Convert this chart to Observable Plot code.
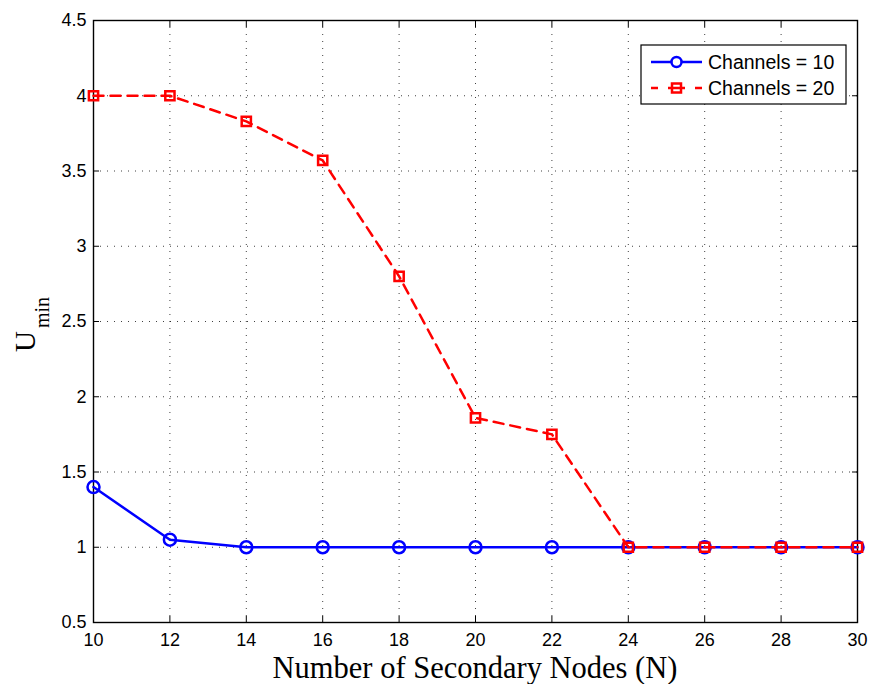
<!DOCTYPE html>
<html>
<head>
<meta charset="utf-8">
<script src="https://cdn.jsdelivr.net/npm/d3@7"></script>
<script src="https://cdn.jsdelivr.net/npm/@observablehq/plot@0.6"></script>
<style>
  html, body { margin: 0; padding: 0; background: #fff; }
  #chart { width: 871px; height: 684px; }
  #chart g[aria-label$="tick label"] { font-size: 18px !important; }
</style>
</head>
<body>
<div id="chart"></div>
<script>
const nodes = [10, 12, 14, 16, 18, 20, 22, 24, 26, 28, 30];
const uminCh10 = [1.4, 1.05, 1, 1, 1, 1, 1, 1, 1, 1, 1];
const uminCh20 = [4, 4, 3.83, 3.57, 2.8, 1.86, 1.75, 1, 1, 1, 1];
const seriesNames = ["Channels = 10", "Channels = 20"];
const xTicks = [10, 12, 14, 16, 18, 20, 22, 24, 26, 28, 30];
const yTicks = [0.5, 1, 1.5, 2, 2.5, 3, 3.5, 4, 4.5];
const xLabel = "Number of Secondary Nodes (N)";
const yLabelMain = "U";
const yLabelSub = "min";

const d10 = nodes.map((n, i) => ({n, v: uminCh10[i]}));
const d20 = nodes.map((n, i) => ({n, v: uminCh20[i]}));

const blue = "#0000ff", red = "#ff0000";
const W = 871, H = 684, mL = 93, mR = 14, mT = 20, mB = 62;

const chart = Plot.plot({
  width: W, height: H,
  marginLeft: mL, marginRight: mR, marginTop: mT, marginBottom: mB,
  style: {fontFamily: "'Liberation Sans', Arial, sans-serif", fontSize: "18px", color: "black", background: "white"},
  x: {domain: [10, 30], label: null},
  y: {domain: [0.5, 4.5], label: null},
  marks: [
    Plot.gridX(xTicks.slice(1, -1), {stroke: "black", strokeOpacity: 0.75, strokeWidth: 1, strokeDasharray: "1,6"}),
    Plot.gridY(yTicks.slice(1, -1), {stroke: "black", strokeOpacity: 0.75, strokeWidth: 1, strokeDasharray: "1,6"}),
    Plot.axisX(xTicks, {anchor: "bottom", tickSize: -6, tickPadding: 17, label: null, fontSize: 18}),
    Plot.axisX(xTicks, {anchor: "top", tickSize: -6, tickFormat: () => "", label: null}),
    Plot.axisY(yTicks, {anchor: "left", tickSize: -6, tickPadding: 13, label: null, fontSize: 18, tickFormat: d => String(d)}),
    Plot.axisY(yTicks, {anchor: "right", tickSize: -6, tickFormat: () => "", label: null}),
    Plot.frame({stroke: "black", strokeWidth: 1.4}),
    Plot.line(d10, {x: "n", y: "v", stroke: blue, strokeWidth: 2.5}),
    Plot.dot(d10, {x: "n", y: "v", r: 6, stroke: blue, strokeWidth: 2.5, fill: "none"}),
    Plot.line(d20, {x: "n", y: "v", stroke: red, strokeWidth: 2.5, strokeDasharray: "10,7"}),
    Plot.dot(d20, {x: "n", y: "v", symbol: "square", r: 5.2, stroke: red, strokeWidth: 2.5, fill: "none"})
  ]
});

document.getElementById("chart").appendChild(chart);

const svg = d3.select(chart);
// x label
svg.append("text")
  .attr("x", mL + (W - mL - mR) / 2)
  .attr("y", 678)
  .attr("text-anchor", "middle")
  .attr("font-family", "'Liberation Serif', 'Times New Roman', serif")
  .attr("font-size", 30.5)
  .attr("fill", "black")
  .text(xLabel);

// y label with subscript
const yl = svg.append("text")
  .attr("transform", "translate(35,352) rotate(-90)")
  .attr("text-anchor", "start")
  .attr("font-family", "'Liberation Serif', 'Times New Roman', serif")
  .attr("fill", "black");
yl.append("tspan").attr("font-size", 29).text(yLabelMain);
yl.append("tspan").attr("font-size", 20).attr("dy", 14).attr("dx", 3).text(yLabelSub);

// legend
const lg = svg.append("g").attr("transform", "translate(641,45)");
lg.append("rect").attr("x", 0).attr("y", 0).attr("width", 205).attr("height", 59)
  .attr("fill", "white").attr("stroke", "black").attr("stroke-width", 1.2);
const rows = [
  {name: seriesNames[0], color: blue, dash: null, sym: "circle", y: 17},
  {name: seriesNames[1], color: red, dash: "9,6", sym: "square", y: 43}
];
rows.forEach(r => {
  lg.append("line").attr("x1", 10).attr("x2", 61).attr("y1", r.y).attr("y2", r.y)
    .attr("stroke", r.color).attr("stroke-width", 2.5)
    .attr("stroke-dasharray", r.dash ? "7,10,17,10,7" : null);
  if (r.sym === "circle") {
    lg.append("circle").attr("cx", 35.5).attr("cy", r.y).attr("r", 5)
      .attr("fill", "white").attr("stroke", r.color).attr("stroke-width", 2.5);
  } else {
    lg.append("rect").attr("x", 31).attr("y", r.y - 4.5).attr("width", 9).attr("height", 9)
      .attr("fill", "none").attr("stroke", r.color).attr("stroke-width", 2.5);
  }
  lg.append("text").attr("x", 67).attr("y", r.y).attr("dy", "0.36em")
    .attr("text-anchor", "start")
    .attr("font-family", "'Liberation Sans', Arial, sans-serif").attr("font-size", 19.5)
    .attr("fill", "black").text(r.name);
});
</script>
</body>
</html>
